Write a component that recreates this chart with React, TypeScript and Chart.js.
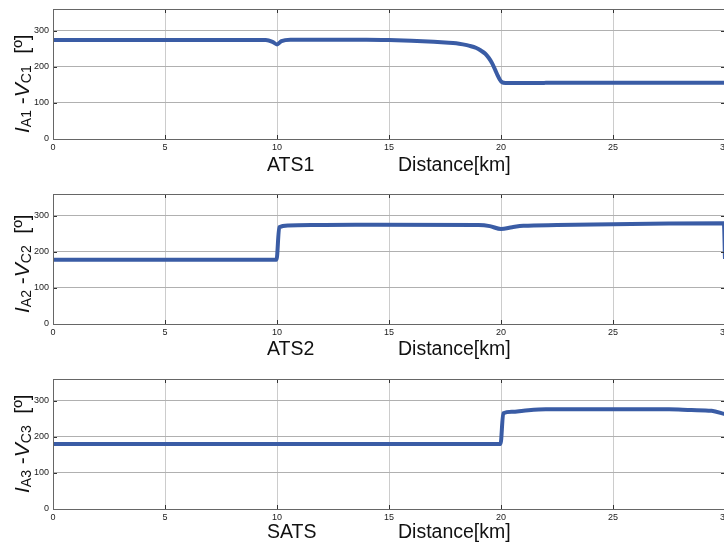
import React, { useEffect, useRef } from 'react';
import { Chart, registerables } from 'chart.js';

Chart.register(...registerables);

// ---- data ----
const xTicks = [0, 5, 10, 15, 20, 25, 30];
const yTicks = [0, 100, 200, 300];
const panelNames = ['ATS1', 'ATS2', 'SATS'];
const xAxisName = 'Distance[km]';
const subA = ['A1', 'A2', 'A3'];
const subC = ['C1', 'C2', 'C3'];

const distance1 = [0, 9.5, 9.8, 10.0, 10.2, 10.6, 14, 15, 16, 17, 17.5, 18, 18.3, 18.6, 18.9, 19.1, 19.3, 19.45, 19.6, 19.75, 19.85, 19.95, 20.05, 20.2, 21.9, 22.0, 30];
const phase1 = [274, 274, 269, 262, 271, 275, 275, 274, 272, 269, 267, 265, 262, 258, 252, 245, 236, 225, 210, 190, 176, 164, 157, 155, 155, 156, 156];

const distance2 = [0, 9.98, 10.1, 10.5, 13.5, 19, 19.5, 20, 20.5, 21, 22.5, 25, 27.5, 29.95, 30];
const phase2 = [178, 178, 268, 273, 275, 274, 271, 263, 268, 272, 274, 276, 278, 279, 180];

const distance3 = [0, 19.98, 20.1, 20.5, 21, 22, 25, 27.5, 28.5, 29.4, 30];
const phase3 = [180, 180, 265, 269, 272, 276, 276, 276, 274, 272, 263];

const seriesX = [distance1, distance2, distance3];
const seriesY = [phase1, phase2, phase3];

// ---- layout ----
const W = 745;
const H = 185;
const FONT = "'Liberation Sans', Arial, sans-serif";
const titleYStart = [133, 128, 123];
const labelBaseline = [171, 170, 168];

function drawYTitle(ctx: CanvasRenderingContext2D, x: number, y: number, idx: number) {
  const parts = [
    { text: 'I', font: `italic 21px ${FONT}`, dy: 0 },
    { text: subA[idx], font: `14px ${FONT}`, dy: 2 },
    { text: ' -', font: `21px ${FONT}`, dy: 0 },
    { text: 'V', font: `italic 21px ${FONT}`, dy: 0 },
    { text: subC[idx], font: `14px ${FONT}`, dy: 2 },
    { text: '  [º]', font: `21px ${FONT}`, dy: 0 },
  ];
  ctx.save();
  ctx.translate(x, y);
  ctx.rotate(-Math.PI / 2);
  ctx.fillStyle = '#111';
  ctx.textAlign = 'left';
  ctx.textBaseline = 'alphabetic';
  let cx = 0;
  for (const p of parts) {
    ctx.font = p.font;
    ctx.fillText(p.text, cx, p.dy);
    cx += ctx.measureText(p.text).width;
  }
  ctx.restore();
}

function Panel({ idx }: { idx: number }) {
  const ref = useRef<HTMLCanvasElement | null>(null);
  useEffect(() => {
    if (!ref.current) return;
    const data = seriesX[idx].map((x, i) => ({ x, y: seriesY[idx][i] }));
    const deco = {
      id: 'deco',
      afterDraw(chart: any) {
        const { ctx, chartArea: a, scales } = chart;
        ctx.save();
        ctx.strokeStyle = '#333';
        ctx.lineWidth = 1;
        ctx.beginPath();
        for (const v of xTicks) {
          const px = Math.round(scales.x.getPixelForValue(v)) + 0.5;
          ctx.moveTo(px, a.top);
          ctx.lineTo(px, a.top + 4);
          ctx.moveTo(px, a.bottom);
          ctx.lineTo(px, a.bottom - 4);
        }
        for (const v of yTicks) {
          const py = Math.round(scales.y.getPixelForValue(v)) + 0.5;
          ctx.moveTo(a.left, py);
          ctx.lineTo(a.left + 4, py);
          ctx.moveTo(a.right, py);
          ctx.lineTo(a.right - 4, py);
        }
        ctx.stroke();
        ctx.strokeStyle = '#666';
        ctx.strokeRect(Math.round(a.left) + 0.5, Math.round(a.top) + 0.5, Math.round(a.right - a.left), Math.round(a.bottom - a.top));
        ctx.fillStyle = '#111';
        ctx.font = `19.5px ${FONT}`;
        ctx.textAlign = 'left';
        ctx.textBaseline = 'alphabetic';
        ctx.fillText(panelNames[idx], 267, labelBaseline[idx]);
        ctx.fillText(xAxisName, 398, labelBaseline[idx]);
        ctx.restore();
        drawYTitle(ctx, 28.5, titleYStart[idx], idx);
      },
    };
    const chart = new Chart(ref.current, {
      type: 'line',
      data: {
        datasets: [
          {
            data,
            borderColor: '#3a5ca5',
            borderWidth: 4,
            pointRadius: 0,
            cubicInterpolationMode: 'monotone',
            fill: false,
          },
        ],
      },
      options: {
        animation: false,
        responsive: false,
        devicePixelRatio: 1,
        layout: { padding: { left: 0, top: 9, right: W - 725, bottom: 0 } },
        plugins: { legend: { display: false }, tooltip: { enabled: false }, title: { display: false } },
        scales: {
          x: {
            type: 'linear',
            min: 0,
            max: 30,
            afterBuildTicks: (axis: any) => {
              axis.ticks = xTicks.map((value) => ({ value }));
            },
            afterFit: (scale: any) => {
              scale.height = H - 139;
              scale.paddingLeft = 0;
              scale.paddingRight = 0;
            },
            grid: { color: '#cccccc', lineWidth: 1, drawTicks: false },
            border: { display: false },
            ticks: {
              color: '#222',
              font: { family: FONT, size: 9 },
              padding: 3,
              maxRotation: 0,
              autoSkip: false,
            },
          },
          y: {
            type: 'linear',
            min: 0,
            max: 360,
            afterBuildTicks: (axis: any) => {
              axis.ticks = yTicks.map((value) => ({ value }));
            },
            afterFit: (scale: any) => {
              scale.width = 53;
              scale.paddingTop = 0;
              scale.paddingBottom = 0;
            },
            grid: { color: '#b0b0b0', lineWidth: 1, drawTicks: false },
            border: { display: false },
            ticks: {
              color: '#222',
              font: { family: FONT, size: 9 },
              padding: 4,
              autoSkip: false,
            },
          },
        },
      },
      plugins: [deco],
    } as any);
    return () => chart.destroy();
  }, [idx]);
  return (
    <div style={{ position: 'absolute', left: 0, top: idx * H, width: W, height: H }}>
      <canvas ref={ref} width={W} height={H} style={{ display: 'block', width: W, height: H }} />
    </div>
  );
}

export default function App() {
  return (
    <div
      style={{
        position: 'fixed',
        left: 0,
        top: 0,
        width: 724,
        height: 544,
        overflow: 'hidden',
        background: '#fff',
      }}
    >
      {[0, 1, 2].map((i) => (
        <Panel key={i} idx={i} />
      ))}
    </div>
  );
}
